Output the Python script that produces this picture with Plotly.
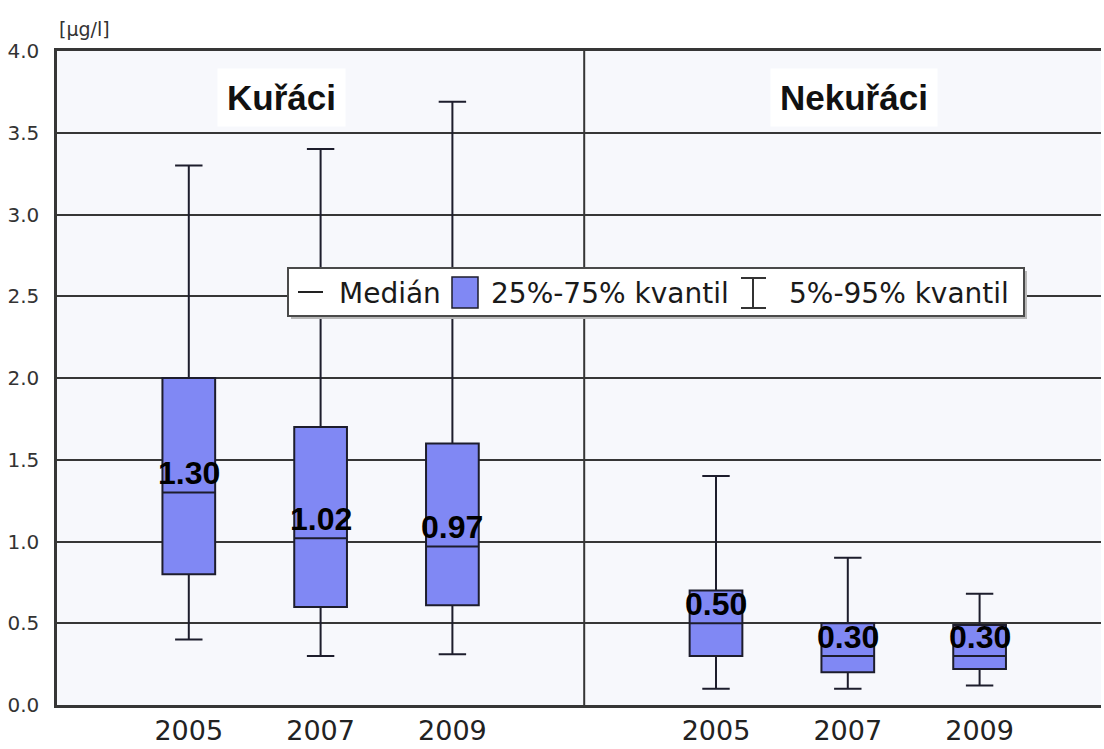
import plotly.graph_objects as go

# ---- data -------------------------------------------------------------
groups = ["Kuřáci", "Nekuřáci"]
years = ["2005", "2007", "2009"]

# percentiles per group/year (Kuřáci 2005, 2007, 2009, Nekuřáci 2005, 2007, 2009)
p05 = [0.40, 0.30, 0.31, 0.10, 0.10, 0.12]
p25 = [0.80, 0.60, 0.61, 0.30, 0.20, 0.22]
median = [1.30, 1.02, 0.97, 0.50, 0.30, 0.30]
p75 = [2.00, 1.70, 1.60, 0.70, 0.50, 0.49]
p95 = [3.30, 3.40, 3.69, 1.40, 0.90, 0.68]

y_ticks = [0.0, 0.5, 1.0, 1.5, 2.0, 2.5, 3.0, 3.5, 4.0]
unit_label = "[µg/l]"
legend_labels = ["Medián", "25%-75% kvantil", "5%-95% kvantil"]

# ---- styling ----------------------------------------------------------
BOX_FILL = "#8088F4"
BOX_LINE = "#1d1d2c"
GRID = "#363636"
PLOT_BG = "#F7F8FC"
SANS = "DejaVu Sans"
ARIAL = "Liberation Sans"

W, H = 1104, 749
ML, MR, MT, MB = 57, 3, 51, 44
PW, PH = W - ML - MR, H - MT - MB


def px(xp):
    """Horizontal pixel -> paper fraction."""
    return (xp - ML) / PW


def py(yp):
    """Vertical pixel -> paper fraction."""
    return (H - MB - yp) / PH


# category positions: each group gets 3 slots plus a gap slot between groups
slots_per_group = len(years) + 1
positions = [1 + g * slots_per_group + i for g in range(len(groups)) for i in range(len(years))]
tick_text = [y for _ in groups for y in years]
divider_x = (positions[len(years) - 1] + positions[len(years)]) / 2

fig = go.Figure()

fig.add_trace(go.Box(
    x=positions,
    q1=p25,
    median=median,
    q3=p75,
    lowerfence=p05,
    upperfence=p95,
    width=0.40,
    whiskerwidth=0.52,
    fillcolor=BOX_FILL,
    line=dict(color=BOX_LINE, width=2),
    boxpoints=False,
    showlegend=False,
    hoverinfo="skip",
))

# median value labels
for xpos, m in zip(positions, median):
    fig.add_annotation(
        x=xpos, y=m, xref="x", yref="y",
        text=f"<b>{m:.2f}</b>",
        showarrow=False, yanchor="middle", yshift=19,
        font=dict(family=ARIAL, size=32, color="#000000"),
    )

# group titles
for gx, name in zip([281, 854], groups):
    fig.add_annotation(
        x=px(gx), y=py(97), xref="paper", yref="paper",
        text=f"<b>{name}</b>",
        showarrow=False, xanchor="center", yanchor="middle",
        bgcolor="#FFFFFF", borderpad=9,
        font=dict(family=ARIAL, size=35, color="#111111"),
    )

# unit label
fig.add_annotation(
    x=px(57), y=py(29), xref="paper", yref="paper",
    text=unit_label, showarrow=False, xanchor="left", yanchor="middle",
    font=dict(family=SANS, size=19, color="#333333"),
)

shapes = []
# vertical divider between groups
shapes.append(dict(type="line", xref="x", yref="y", x0=divider_x, x1=divider_x,
                   y0=y_ticks[0], y1=y_ticks[-1], line=dict(color=GRID, width=2), layer="below"))

# ---- legend box ------------------------------------------------------
lx0, lx1, ly0, ly1 = 288, 1024, 268, 316
shapes.append(dict(type="rect", xref="paper", yref="paper",
                   x0=px(lx0 + 3), x1=px(lx1 + 3), y0=py(ly1 + 3), y1=py(ly0 + 3),
                   fillcolor="#b8b8b8", line=dict(width=0)))
shapes.append(dict(type="rect", xref="paper", yref="paper",
                   x0=px(lx0), x1=px(lx1), y0=py(ly1), y1=py(ly0),
                   fillcolor="#FFFFFF", line=dict(color="#4a4a4a", width=2)))
cy = 293
# median symbol
shapes.append(dict(type="line", xref="paper", yref="paper",
                   x0=px(298), x1=px(323), y0=py(cy - 1), y1=py(cy - 1),
                   line=dict(color="#222222", width=2)))
# box symbol
shapes.append(dict(type="rect", xref="paper", yref="paper",
                   x0=px(452), x1=px(478), y0=py(308), y1=py(277),
                   fillcolor=BOX_FILL, line=dict(color=BOX_LINE, width=1.5)))
# whisker symbol
wx = 753
shapes.append(dict(type="line", xref="paper", yref="paper",
                   x0=px(wx), x1=px(wx), y0=py(308), y1=py(278),
                   line=dict(color="#333333", width=2)))
for yy in (278, 308):
    shapes.append(dict(type="line", xref="paper", yref="paper",
                       x0=px(741), x1=px(766), y0=py(yy), y1=py(yy),
                       line=dict(color="#333333", width=2)))

for xl, label in zip([337, 489, 787], legend_labels):
    fig.add_annotation(
        x=px(xl), y=py(cy), xref="paper", yref="paper",
        text=label, showarrow=False, xanchor="left", yanchor="middle",
        font=dict(family=SANS, size=28, color="#1a1a1a"),
    )

fig.update_layout(
    width=W, height=H,
    margin=dict(l=ML, r=MR, t=MT, b=MB, autoexpand=False),
    paper_bgcolor="#FFFFFF",
    plot_bgcolor=PLOT_BG,
    shapes=shapes,
    showlegend=False,
)

fig.update_xaxes(
    range=[0, PW / 131.8],
    tickvals=positions, ticktext=tick_text,
    tickfont=dict(family=SANS, size=27, color="#222222"),
    showgrid=False, zeroline=False,
    showline=True, linecolor=GRID, linewidth=2.5, mirror=True,
    ticks="", ticklabelstandoff=0, fixedrange=True, automargin=False,
)
fig.update_yaxes(
    range=[y_ticks[0], y_ticks[-1]],
    tickvals=y_ticks, tickformat=".1f",
    tickfont=dict(family=SANS, size=20, color="#333333"),
    showgrid=True, gridcolor=GRID, gridwidth=2,
    zeroline=False,
    showline=True, linecolor=GRID, linewidth=2.5,
    ticks="", ticklabelstandoff=11, fixedrange=True, automargin=False,
)

fig.write_html("out.html")
